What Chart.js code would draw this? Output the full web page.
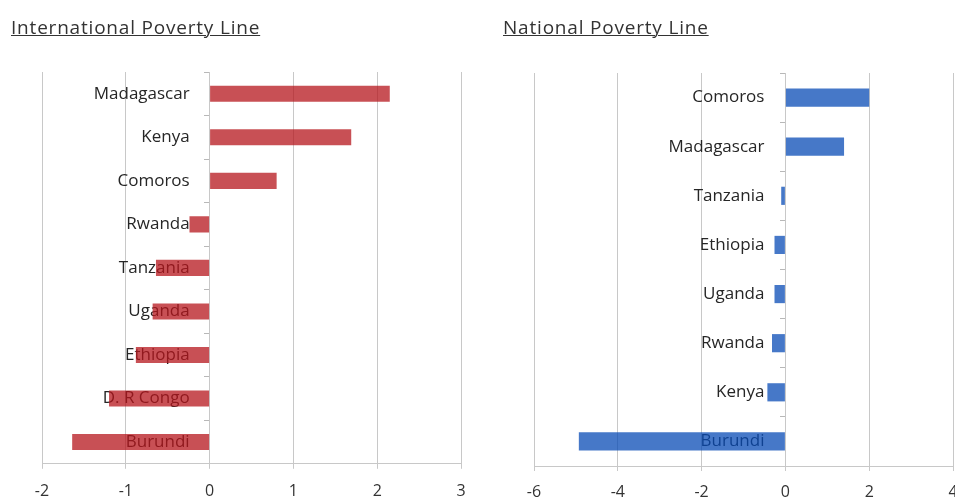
<!DOCTYPE html>
<html>
<head>
<meta charset="utf-8">
<script src="https://cdn.jsdelivr.net/npm/chart.js@4.4.1/dist/chart.umd.min.js"></script>
<style>
  html, body { margin: 0; padding: 0; background: #fff; width: 955px; height: 502px; overflow: hidden; }
  .wrap { position: absolute; top: 0; }
  .title { position: absolute; top: 14px; font-family: "Open Sans", sans-serif; font-size: 19px; letter-spacing: 0.8px; color: #333; text-decoration: underline; text-decoration-thickness: 1px; white-space: nowrap; z-index: 2; }
  canvas { position: absolute; top: 0; left: 0; }
</style>
</head>
<body>
<div class="title" style="left:11px;">International Poverty Line</div>
<div class="title" style="left:503px;">National Poverty Line</div>
<div class="wrap" style="left:0; width:480px; height:520px;"><canvas id="c1" width="480" height="520"></canvas></div>
<div class="wrap" style="left:480px; width:520px; height:520px;"><canvas id="c2" width="520" height="520"></canvas></div>
<script>
const intlCountries = ["Madagascar", "Kenya", "Comoros", "Rwanda", "Tanzania", "Uganda", "Ethiopia", "D. R Congo", "Burundi"];
const intlValues = [2.15, 1.69, 0.80, -0.24, -0.64, -0.68, -0.88, -1.20, -1.64];
const intlTicks = { min: -2, max: 3, step: 1 };

const natCountries = ["Comoros", "Madagascar", "Tanzania", "Ethiopia", "Uganda", "Rwanda", "Kenya", "Burundi"];
const natValues = [2.0, 1.40, -0.10, -0.26, -0.26, -0.32, -0.43, -4.93];
const natTicks = { min: -6, max: 4, step: 2 };

const FONT = "'Open Sans', sans-serif";
const noPad = (s) => { s.paddingTop = 0; s.paddingBottom = 0; };

function makeChart(id, labels, values, ticks, color, padding, labelAt, tickPad) {
  return new Chart(document.getElementById(id), {
    type: 'bar',
    data: {
      labels: labels,
      datasets: [{
        data: values,
        yAxisID: 'y',
        backgroundColor: color,
        borderWidth: 0,
        barPercentage: 0.74,
        categoryPercentage: 0.5
      }]
    },
    options: {
      indexAxis: 'y',
      responsive: false,
      animation: false,
      devicePixelRatio: 1,
      layout: { padding: padding },
      plugins: { legend: { display: false }, tooltip: { enabled: false } },
      scales: {
        x: {
          type: 'linear',
          position: 'bottom',
          min: ticks.min,
          max: ticks.max,
          ticks: { stepSize: ticks.step, color: '#333', font: { family: FONT, size: 16 }, padding: tickPad },
          grid: { color: '#c8c8c8', lineWidth: 1, tickLength: 5, tickColor: '#c8c8c8' },
          border: { color: '#c8c8c8' }
        },
        y: {
          type: 'category',
          position: { x: 0 },
          offset: true,
          afterFit: noPad,
          ticks: { display: false },
          grid: { drawOnChartArea: false, offset: true, tickLength: 5, color: '#b8b8b8' },
          border: { display: true, color: '#c8c8c8' }
        },
        yl: {
          type: 'category',
          axis: 'y',
          labels: labels,
          position: { x: labelAt },
          offset: true,
          afterFit: noPad,
          ticks: { color: '#262626', font: { family: FONT, size: 17 }, padding: 0 },
          grid: { display: false, drawTicks: false },
          border: { display: false }
        }
      }
    }
  });
}

makeChart('c1', intlCountries, intlValues, intlTicks, 'rgba(181,21,28,0.75)', { left: 42, right: 19, top: 72, bottom: 6 }, -0.238, 13);
makeChart('c2', natCountries, natValues, natTicks, 'rgba(8,75,181,0.75)', { left: 54, right: 47, top: 73, bottom: 7 }, -0.5, 11.4);
</script>
</body>
</html>
